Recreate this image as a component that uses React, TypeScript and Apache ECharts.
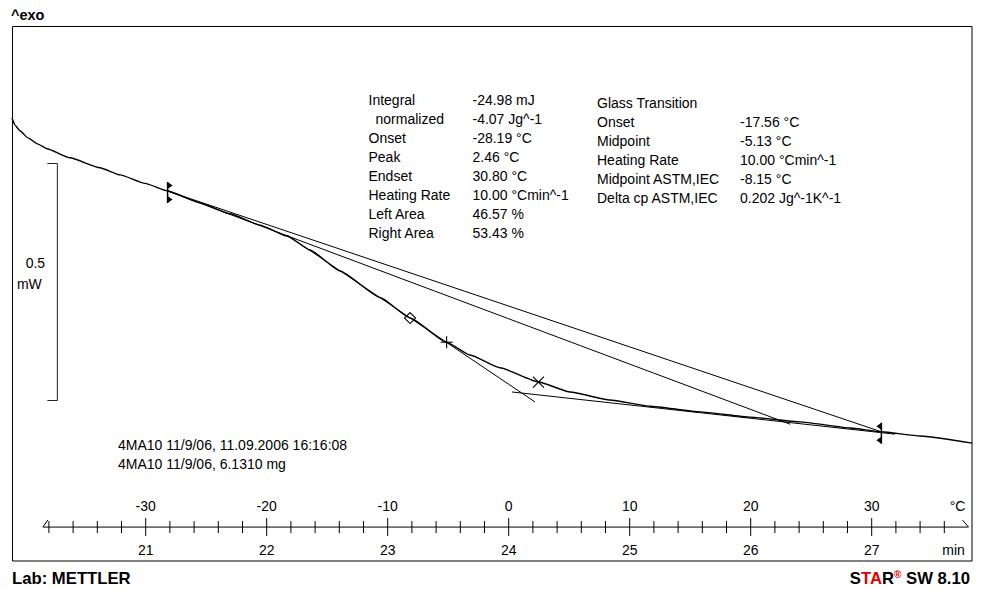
import React, { useEffect, useRef } from "react";
import * as echarts from "echarts";

const FONT = "'Liberation Sans', Arial, Helvetica, sans-serif";

// Measured DSC curve: sample temperature (°C) and heat flow (mW)
const TEMPERATURE_C = [
  -41.05, -40.8, -40.39, -39.73, -38.9, -38.16, -36.26, -33.78, -32.12, -30.06,
  -28.19, -25.51, -23.03, -20.55, -18.32, -16.42, -13.94, -10.63, -8.15, -5.13,
  -3.2, -0.72, 2.46, 5.07, 8.37, 11.68, 15.81, 19.94, 24.07, 28.21, 30.8, 34.0, 38.3,
];
const HEAT_FLOW_MW = [
  -1.192, -1.207, -1.219, -1.234, -1.247, -1.257, -1.276, -1.297, -1.312, -1.33,
  -1.346, -1.371, -1.394, -1.418, -1.441, -1.4705, -1.5148, -1.5707, -1.614, -1.665,
  -1.692, -1.719, -1.749, -1.77, -1.787, -1.8, -1.812, -1.823, -1.833, -1.846, -1.854, -1.863, -1.878,
];

// Evaluation results (°C)
const ONSET_C = -28.19;
const PEAK_C = 2.46;
const ENDSET_C = 30.8;
const TG_ONSET_C = -17.56;
const TG_MIDPOINT_C = -5.13;
const TG_MIDPOINT_ASTM_C = -8.15;

// Construction lines of the evaluation: [temperature °C, heat flow mW]
const LEFT_BASELINE_END = [23.26, -1.838];
const TANGENT_LINE = [[-18.32, -1.439], [2.17, -1.791]];
const RIGHT_BASELINE = [[0.27, -1.77], [31.93, -1.859]];

// Visible window of the measurement
const X_MIN = -42;
const X_MAX = 39;
const Y_MIN = -2.1;
const Y_MAX = -1.0;

// Heat-flow scale bar
const SCALE_BAR_C = -37.3;
const SCALE_BAR_TOP_MW = -1.288;
const SCALE_BAR_SPAN_MW = 0.5;

// Time / temperature ruler
const HEATING_RATE = 10; // K/min
const MIN_AT_0C = 24;
const RULER_LEVEL_MW = -2.055;
const RULER_START_MIN = 20.15;
const RULER_END_MIN = 27.8;
const RULER_FIRST_TICK_MIN = 20.2;
const RULER_LAST_TICK_MIN = 27.6;
const RULER_MINOR_STEP = 0.2;
const RULER_MAJOR_MIN = [21, 22, 23, 24, 25, 26, 27];
const MINUTE_LABELS = ["21", "22", "23", "24", "25", "26", "27"];
const TEMP_LABELS = ["-30", "-20", "-10", "0", "10", "20", "30"];

// Result tables
const INTEGRAL_LABELS = ["Integral", "normalized", "Onset", "Peak", "Endset", "Heating Rate", "Left Area", "Right Area"];
const INTEGRAL_VALUES = [
  "-24.98 mJ",
  "-4.07 Jg^-1",
  `${ONSET_C.toFixed(2)} °C`,
  `${PEAK_C.toFixed(2)} °C`,
  `${ENDSET_C.toFixed(2)} °C`,
  "10.00 °Cmin^-1",
  "46.57 %",
  "53.43 %",
];
const GLASS_LABELS = ["Onset", "Midpoint", "Heating Rate", "Midpoint ASTM,IEC", "Delta cp ASTM,IEC"];
const GLASS_VALUES = [
  `${TG_ONSET_C.toFixed(2)} °C`,
  `${TG_MIDPOINT_C.toFixed(2)} °C`,
  "10.00 °Cmin^-1",
  `${TG_MIDPOINT_ASTM_C.toFixed(2)} °C`,
  "0.202 Jg^-1K^-1",
];
const SAMPLE_LINES = ["4MA10 11/9/06, 11.09.2006 16:16:08", "4MA10 11/9/06, 6.1310 mg"];

const minToC = (m: number) => (m - MIN_AT_0C) * HEATING_RATE;

// heat flow on the measured curve at a given temperature
function flowAt(t: number): number {
  for (let i = 1; i < TEMPERATURE_C.length; i++) {
    if (t <= TEMPERATURE_C[i]) {
      const t0 = TEMPERATURE_C[i - 1];
      const t1 = TEMPERATURE_C[i];
      const f = (t - t0) / (t1 - t0);
      return HEAT_FLOW_MW[i - 1] + f * (HEAT_FLOW_MW[i] - HEAT_FLOW_MW[i - 1]);
    }
  }
  return HEAT_FLOW_MW[HEAT_FLOW_MW.length - 1];
}

const MARKER_KINDS = ["diamond", "plus", "cross"];
const MARKER_TEMPS = [TG_MIDPOINT_ASTM_C, TG_MIDPOINT_C, PEAK_C];

const text = (x: number, y: number, s: string, extra: any = {}) => ({
  type: "text",
  x,
  y,
  silent: true,
  style: {
    text: s,
    fill: "#000",
    fontSize: 14,
    fontFamily: FONT,
    align: "left",
    verticalAlign: "middle",
    textAlign: "left",
    textVerticalAlign: "middle",
    ...extra,
  },
});

function buildOption() {
  const curve = TEMPERATURE_C.map((t, i) => [t, HEAT_FLOW_MW[i]]);
  const onsetPt = [ONSET_C, flowAt(ONSET_C)];
  const endsetPt = [ENDSET_C, flowAt(ENDSET_C)];

  const straight = (data: number[][]) => ({
    type: "line",
    data,
    symbol: "none",
    silent: true,
    clip: false,
    lineStyle: { color: "#000", width: 1 },
  });

  const tickData: number[][] = [];
  const k0 = Math.round(RULER_FIRST_TICK_MIN / RULER_MINOR_STEP);
  const k1 = Math.round(RULER_LAST_TICK_MIN / RULER_MINOR_STEP);
  for (let k = k0; k <= k1; k++) {
    const m = k * RULER_MINOR_STEP;
    const idx = RULER_MAJOR_MIN.findIndex((v) => Math.abs(v - m) < 1e-6);
    tickData.push([minToC(m), RULER_LEVEL_MW, idx]);
  }

  const stroke = { stroke: "#000", lineWidth: 1, fill: null };

  const graphics: any[] = [
    {
      type: "rect",
      silent: true,
      shape: { x: 12.5, y: 26.5, width: 959.5, height: 534.5 },
      style: { stroke: "#000", lineWidth: 1, fill: null },
    },
    text(11, 15, "^exo", { fontWeight: "bold", fontSize: 14.5 }),
    text(12, 578, "Lab: METTLER", { fontWeight: "bold", fontSize: 16.7 }),
    {
      type: "text",
      x: 970,
      y: 578,
      silent: true,
      style: {
        text: "{k|S}{r|TA}{k|R}{s|®}{k| SW 8.10}",
        align: "right",
        verticalAlign: "middle",
        textAlign: "right",
        textVerticalAlign: "middle",
        rich: {
          k: { fontSize: 16.7, fontWeight: "bold", fontFamily: FONT, fill: "#000", color: "#000" },
          r: { fontSize: 16.7, fontWeight: "bold", fontFamily: FONT, fill: "#e00000", color: "#e00000" },
          s: { fontSize: 10, fontWeight: "bold", fontFamily: FONT, fill: "#e00000", color: "#e00000", verticalAlign: "top", lineHeight: 18 },
        },
      },
    },
  ];

  INTEGRAL_LABELS.forEach((s, i) => {
    const y = 100 + i * 19.05;
    graphics.push(text(i === 1 ? 375.5 : 368.5, y, s));
    graphics.push(text(472.5, y, INTEGRAL_VALUES[i]));
  });
  graphics.push(text(597, 103, "Glass Transition"));
  GLASS_LABELS.forEach((s, i) => {
    const y = 122 + i * 19.05;
    graphics.push(text(597, y, s));
    graphics.push(text(740, y, GLASS_VALUES[i]));
  });
  SAMPLE_LINES.forEach((s, i) => graphics.push(text(118, 445 + i * 18.5, s)));

  return {
    animation: false,
    backgroundColor: "#fff",
    grid: { left: 0.5, right: 0.4, top: 27, bottom: 40.6 },
    xAxis: { type: "value", min: X_MIN, max: X_MAX, show: false },
    yAxis: { type: "value", min: Y_MIN, max: Y_MAX, show: false },
    series: [
      {
        type: "line",
        name: "Heat flow",
        data: curve,
        symbol: "none",
        smooth: 0.15,
        smoothMonotone: "x",
        silent: true,
        clip: false,
        lineStyle: { color: "#000", width: 1.4 },
      },
      straight([onsetPt, endsetPt]),
      straight([onsetPt, LEFT_BASELINE_END]),
      straight(TANGENT_LINE),
      straight(RIGHT_BASELINE),
      // characteristic points of the glass transition and peak
      {
        type: "custom",
        silent: true,
        data: MARKER_TEMPS.map((t, i) => [t, flowAt(t), i]),
        renderItem: (params: any, api: any) => {
          const [x, y] = api.coord([api.value(0), api.value(1)]);
          const kind = MARKER_KINDS[params.dataIndex];
          if (kind === "diamond") {
            const s = 5.5;
            return {
              type: "polygon",
              shape: { points: [[x, y - s], [x + s, y], [x, y + s], [x - s, y]] },
              style: { stroke: "#000", lineWidth: 1.1, fill: "#fff" },
            };
          }
          const s = kind === "plus" ? 6 : 5.5;
          const lines =
            kind === "plus"
              ? [[x - s, y, x + s, y], [x, y - s, x, y + s]]
              : [[x - s, y - s, x + s, y + s], [x - s, y + s, x + s, y - s]];
          return {
            type: "group",
            children: lines.map((l) => ({
              type: "line",
              shape: { x1: l[0], y1: l[1], x2: l[2], y2: l[3] },
              style: { stroke: "#000", lineWidth: 1.1 },
            })),
          };
        },
      },
      // integration limits
      {
        type: "custom",
        silent: true,
        data: [
          [onsetPt[0], onsetPt[1], 1],
          [endsetPt[0], endsetPt[1], -1],
        ],
        renderItem: (params: any, api: any) => {
          const [x, y] = api.coord([api.value(0), api.value(1)]);
          const d = api.value(2);
          const top = y - 9;
          const bot = y + 12;
          return {
            type: "group",
            children: [
              { type: "line", shape: { x1: x, y1: top, x2: x, y2: bot }, style: { stroke: "#000", lineWidth: 1.5 } },
              { type: "polygon", shape: { points: [[x, top], [x, top + 7], [x + d * 5, top + 3.5]] }, style: { fill: "#000" } },
              { type: "polygon", shape: { points: [[x, bot - 7], [x, bot], [x + d * 5, bot - 3.5]] }, style: { fill: "#000" } },
            ],
          };
        },
      },
      // heat-flow scale bar
      {
        type: "custom",
        silent: true,
        data: [[SCALE_BAR_C, SCALE_BAR_TOP_MW, SCALE_BAR_TOP_MW - SCALE_BAR_SPAN_MW]],
        renderItem: (params: any, api: any) => {
          const [x, yTop] = api.coord([api.value(0), api.value(1)]);
          const [, yBot] = api.coord([api.value(0), api.value(2)]);
          const mid = (yTop + yBot) / 2;
          const lbl = (tx: number, ty: number, s: string) => ({
            type: "text",
            x: tx,
            y: ty,
            style: { text: s, fill: "#000", fontSize: 14, fontFamily: FONT, align: "center", verticalAlign: "middle" },
          });
          return {
            type: "group",
            children: [
              {
                type: "polyline",
                shape: { points: [[x - 10, yTop], [x, yTop], [x, yBot], [x - 10, yBot]] },
                style: { stroke: "#222", lineWidth: 1, fill: null },
              },
              lbl(x - 22, mid - 19, String(SCALE_BAR_SPAN_MW)),
              lbl(x - 28, mid + 2, "mW"),
            ],
          };
        },
      },
      // ruler line with its end arrows and units
      {
        type: "custom",
        silent: true,
        data: [[minToC(RULER_START_MIN), RULER_LEVEL_MW, minToC(RULER_END_MIN)]],
        renderItem: (params: any, api: any) => {
          const [x0, y] = api.coord([api.value(0), api.value(1)]);
          const [x1] = api.coord([api.value(2), api.value(1)]);
          const lbl = (tx: number, ty: number, s: string) => ({
            type: "text",
            x: tx,
            y: ty,
            style: { text: s, fill: "#000", fontSize: 14, fontFamily: FONT, align: "center", verticalAlign: "middle" },
          });
          return {
            type: "group",
            children: [
              { type: "line", shape: { x1: x0, y1: y, x2: x1, y2: y }, style: stroke },
              { type: "line", shape: { x1: x0, y1: y, x2: x0 + 5, y2: y - 7 }, style: stroke },
              { type: "line", shape: { x1: x1 - 6, y1: y - 7, x2: x1, y2: y }, style: stroke },
              lbl(x1 - 11, y - 21, "°C"),
              lbl(x1 - 15, y + 23, "min"),
            ],
          };
        },
      },
      // ruler ticks: minutes below, sample temperature above
      {
        type: "custom",
        silent: true,
        data: tickData,
        renderItem: (params: any, api: any) => {
          const [x, y] = api.coord([api.value(0), api.value(1)]);
          const idx = api.value(2);
          const major = idx >= 0;
          const len = major ? 9 : 6;
          const children: any[] = [
            { type: "line", shape: { x1: x, y1: y - len, x2: x, y2: y + len }, style: stroke },
          ];
          if (major) {
            const lbl = (ty: number, s: string) => ({
              type: "text",
              x,
              y: ty,
              style: { text: s, fill: "#000", fontSize: 14, fontFamily: FONT, align: "center", verticalAlign: "middle" },
            });
            children.push(lbl(y - 21, TEMP_LABELS[idx]));
            children.push(lbl(y + 23, MINUTE_LABELS[idx]));
          }
          return { type: "group", children };
        },
      },
    ],
    graphic: graphics,
  };
}

export default function App() {
  const ref = useRef<HTMLDivElement>(null);
  useEffect(() => {
    if (!ref.current) return;
    const chart = echarts.init(ref.current, null, { renderer: "svg" });
    chart.setOption(buildOption() as any);
    return () => chart.dispose();
  }, []);
  return (
    <div
      ref={ref}
      style={{ position: "fixed", left: 0, top: 0, width: 981, height: 589, background: "#fff" }}
    />
  );
}
